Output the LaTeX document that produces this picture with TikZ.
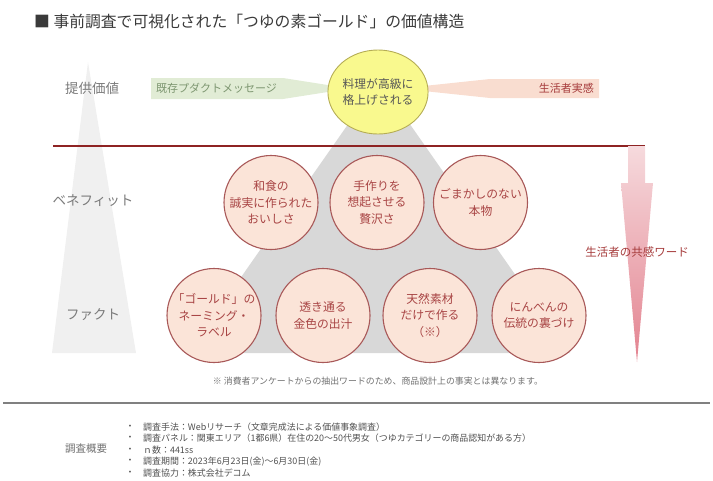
\documentclass[tikz,border=0pt]{standalone}
\usepackage{fontspec}
\setmainfont{Noto Sans CJK JP}
\usetikzlibrary{shapes.geometric}
\definecolor{titleC}{HTML}{3A3A3A}
\definecolor{labelC}{HTML}{7A7A7A}
\definecolor{lightTri}{HTML}{F0F0F0}
\definecolor{bigTri}{HTML}{D8D8D8}
\definecolor{greenBand}{HTML}{E1ECD5}
\definecolor{greenText}{HTML}{7D9670}
\definecolor{salmonBand}{HTML}{F9DDD0}
\definecolor{redText}{HTML}{A63C3C}
\definecolor{redLine}{HTML}{8E2323}
\definecolor{circF}{HTML}{FBE4D8}
\definecolor{circB}{HTML}{A85858}
\definecolor{circT}{HTML}{A84444}
\definecolor{yelF}{HTML}{F9F98E}
\definecolor{yelB}{HTML}{B5AD55}
\definecolor{arrTop}{HTML}{F6DADD}
\definecolor{arrBot}{HTML}{E38390}
\definecolor{noteC}{HTML}{707070}
\definecolor{sepC}{HTML}{808080}
\definecolor{infoC}{HTML}{505050}
\begin{document}
\begin{tikzpicture}[x=1pt,y=-1pt,
  circ/.style={circle, draw=circB, fill=circF, line width=1.1pt, minimum size=94pt, inner sep=0pt, align=center, text=circT, font=\fontsize{11.8}{16.6}\selectfont},
  level/.style={text=labelC, font=\fontsize{13.5}{16}\selectfont},
  info/.style={anchor=west, text=infoC, font=\fontsize{8.95}{10}\selectfont, inner sep=0pt},
  bullet/.style={text=infoC, font=\fontsize{8.95}{10}\selectfont, inner sep=0pt}]
\useasboundingbox (0,0) rectangle (713,480);
% title
\node[anchor=west, text=titleC, font=\fontsize{15.8}{18}\selectfont, inner sep=0pt] (title) at (34,21) {■ 事前調査で可視化された「つゆの素ゴールド」の価値構造};
% left light triangle
\fill[lightTri] (88,62) -- (136,353) -- (52,353) -- cycle;
% big gray triangle
\fill[bigTri] (379,80) -- (570,353) -- (188,353) -- cycle;
% bands
\fill[greenBand] (151,78) -- (283,78) -- (350,88.5) -- (283,99) -- (151,99) -- cycle;
\fill[salmonBand] (599,79) -- (490,79) -- (400,88.5) -- (490,98) -- (599,98) -- cycle;
\node[anchor=west, text=greenText, font=\fontsize{11}{13}\selectfont, inner sep=0pt] (msg) at (156,88.5) {既存プダクトメッセージ};
\node[anchor=east, text=redText, font=\fontsize{11}{13}\selectfont, inner sep=0pt] (feel) at (594,88.5) {生活者実感};
% level labels
\node[level] (lv1) at (92,88) {提供価値};
\node[level] (lv2) at (93,201) {ベネフィット};
\node[level] (lv3) at (93,315) {ファクト};
% yellow top
\node[ellipse, draw=yelB, fill=yelF, line width=0.9pt, minimum width=96pt, minimum height=84pt, inner sep=0pt, align=center, text=titleC!85, font=\fontsize{11.8}{15.5}\selectfont] (top) at (378,92) {料理が高級に\\格上げされる};
% red line
\coordinate (lineL) at (53,146);
\coordinate (lineR) at (645,146);
\draw[redLine, line width=1.5pt] (lineL) -- (lineR);
% right arrow
\shade[top color=arrTop, bottom color=arrBot] (628,146) -- (645,146) -- (645,183) -- (653,183) -- (637,362) -- (621,183) -- (628,183) -- cycle;
\node[text=redText, font=\fontsize{11.5}{13}\selectfont, inner sep=0pt] (empathy) at (637,252) {生活者の共感ワード};
% benefit circles
\node[circ] (b1) at (271,202.5) {和食の\\誠実に作られた\\おいしさ};
\node[circ] (b2) at (377,202.5) {手作りを\\想起させる\\贅沢さ};
\node[circ] (b3) at (480.5,202.5) {ごまかしのない\\本物};
% fact circles
\node[circ] (f1) at (214,315.5) {「ゴールド」の\\ネーミング・\\ラベル};
\node[circ] (f2) at (323,315.5) {透き通る\\金色の出汁};
\node[circ] (f3) at (430,315.5) {天然素材\\だけで作る\\（※）};
\node[circ] (f4) at (539,315.5) {にんべんの\\伝統の裏づけ};
% note
\node[text=noteC, font=\fontsize{8.9}{10}\selectfont, inner sep=0pt] (note) at (378,381) {※ 消費者アンケートからの抽出ワードのため、商品設計上の事実とは異なります。};
% separator
\coordinate (sepL) at (3,403);
\coordinate (sepR) at (710,403);
\draw[sepC, line width=1.3pt] (sepL) -- (sepR);
% survey summary
\node[text=noteC, font=\fontsize{10.5}{12}\selectfont, inner sep=0pt] (sum) at (86,449) {調査概要};
\node[bullet] (d1) at (130,427) {・};
\node[bullet] (d2) at (130,438.5) {・};
\node[bullet] (d3) at (130,450) {・};
\node[bullet] (d4) at (130,461.5) {・};
\node[bullet] (d5) at (130,473) {・};
\node[info] (i1) at (143,427) {調査手法：Webリサーチ（文章完成法による価値事象調査）};
\node[info] (i2) at (143,438.5) {調査パネル：関東エリア（1都6県）在住の20～50代男女（つゆカテゴリーの商品認知がある方）};
\node[info] (i3) at (143,450) {ｎ数：441ss};
\node[info] (i4) at (143,461.5) {調査期間：2023年6月23日(金)～6月30日(金)};
\node[info] (i5) at (143,473) {調査協力：株式会社デコム};
\end{tikzpicture}
\end{document}
